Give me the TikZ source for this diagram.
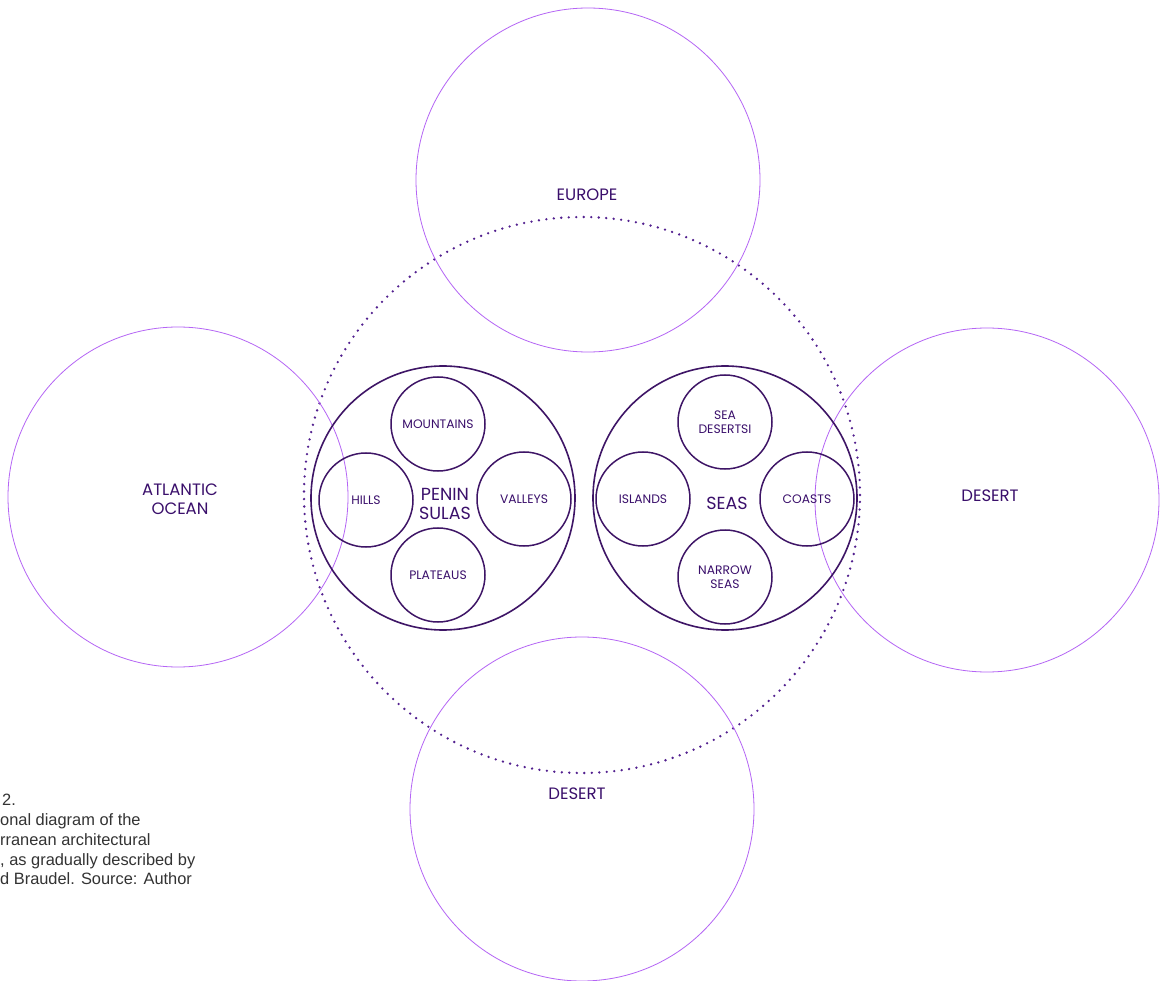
\documentclass[tikz,border=0pt]{standalone}
\usepackage{fontspec}
\setmainfont{Poppins}
\newfontfamily\capfont{Liberation Sans}
\definecolor{violetline}{HTML}{B565F5}
\definecolor{innerline}{HTML}{3E1566}
\definecolor{dotcol}{HTML}{52208F}
\definecolor{txt}{HTML}{3A0F6B}
\definecolor{captxt}{HTML}{333333}
\begin{document}
\begin{tikzpicture}[x=1pt,y=-1pt,
  outer/.style={circle, draw=violetline, line width=0.8pt, inner sep=0pt, minimum size=#1},
  dotc/.style={circle, draw=dotcol, line width=2.6pt, dash pattern=on 0pt off 7.5pt, line cap=round, inner sep=0pt, minimum size=556pt},
  grp/.style={circle, draw=innerline, line width=1.6pt, inner sep=0pt, minimum size=264pt},
  sub/.style={circle, draw=innerline, line width=1.5pt, inner sep=0pt, minimum size=94pt, align=center, text=txt, font=\fontsize{12.3}{14}\selectfont},
  big/.style={text=txt, align=center, font=\fontsize{16.5}{18.5}\selectfont, inner sep=0pt},
  mid/.style={text=txt, align=center, font=\fontsize{17.5}{19}\selectfont, inner sep=0pt},
  captext/.style={text=captxt, anchor=base west, inner sep=0pt, font=\capfont\fontsize{16.4}{18}\selectfont}]
\useasboundingbox (0,0) rectangle (1165,981);
\fill[white] (0,0) rectangle (1165,981);
% large circles
\node[dotc] (med) at (582,495) {};
\node[outer=344pt] (europe) at (588,180) {};
\node[outer=340pt] (atlantic) at (178,497) {};
\node[outer=344pt] (desertR) at (987,500) {};
\node[outer=344pt] (desertB) at (582,809) {};
% group circles
\node[grp] (pen) at (443,498) {};
\node[grp] (seas) at (725,498) {};
% sub circles
\node[sub] (mountains) at (438,424) {MOUNTAINS};
\node[sub] (hills) at (366,500) {HILLS};
\node[sub] (valleys) at (524,499) {VALLEYS};
\node[sub] (plateaus) at (438,575) {PLATEAUS};
\node[sub] (seadeserts) at (725,422) {SEA\\DESERTSI};
\node[sub] (islands) at (643,499) {ISLANDS};
\node[sub] (coasts) at (807,499) {COASTS};
\node[sub] (narrow) at (725,577) {NARROW\\SEAS};
% labels
\node[mid] (penlbl) at (445,504) {PENIN\\SULAS};
\node[mid] (seaslbl) at (727,503) {SEAS};
\node[big] (europelbl) at (587,195) {EUROPE};
\node[big] (atlanticlbl) at (180,499) {ATLANTIC\\OCEAN};
\node[big] (desertRlbl) at (990,496) {DESERT};
\node[big] (desertBlbl) at (577,794) {DESERT};
% caption
\node[captext] (c1) at (2,805) {2.};
\node[captext] (c2) at (0,825) {onal diagram of the};
\node[captext] (c3) at (0,845) {rranean architectural};
\node[captext] (c4) at (0,865) {, as gradually described by};
\node[captext] (c5) at (0,884) {d Braudel. Source: Author};
\end{tikzpicture}
\end{document}
